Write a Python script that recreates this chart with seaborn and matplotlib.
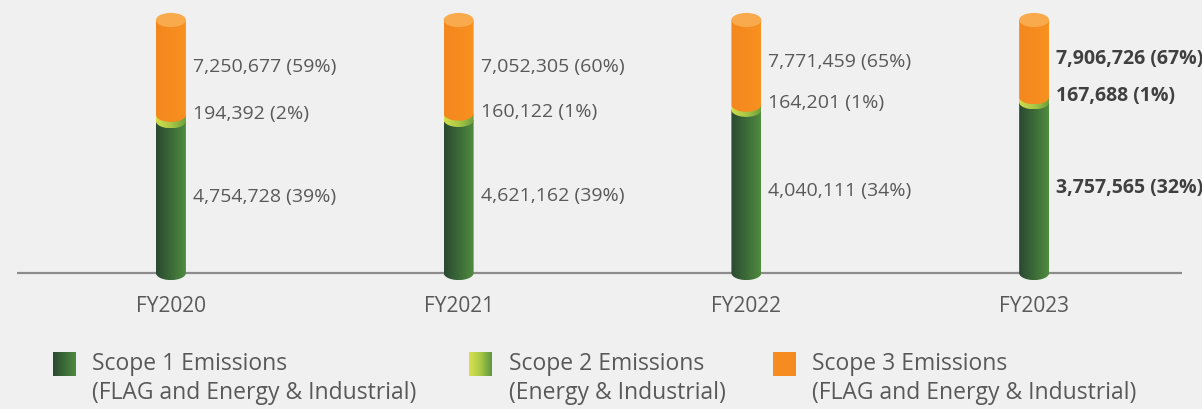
import numpy as np
import pandas as pd
import seaborn as sns
from matplotlib import pyplot as plt
from matplotlib.path import Path
from matplotlib.patches import PathPatch, Ellipse
from matplotlib.colors import LinearSegmentedColormap

sns.set_style('white')
plt.rcParams['font.family'] = ['Open Sans', 'DejaVu Sans']

#%% data
years = ['FY2020', 'FY2021', 'FY2022', 'FY2023']
scope1 = [4754728, 4621162, 4040111, 3757565]
scope2 = [194392, 160122, 164201, 167688]
scope3 = [7250677, 7052305, 7771459, 7906726]
pct1 = [39, 39, 34, 32]
pct2 = [2, 1, 1, 1]
pct3 = [59, 60, 65, 67]

# segment heights as drawn in the picture (% of the bar)
seg_green = [60, 60.5, 64.5, 67.5]
seg_lime = [2.5, 2.5, 2, 2]
seg_orange = [37.5, 37, 33.5, 30.5]

legend_labels = [('Scope 1 Emissions', '(FLAG and Energy & Industrial)'),
                 ('Scope 2 Emissions', '(Energy & Industrial)'),
                 ('Scope 3 Emissions', '(FLAG and Energy & Industrial)')]

#%% style
bg = '#f0f0f0'
txt = '#595959'
cm_green = LinearSegmentedColormap.from_list('g', ['#2a4a31', '#3c6a38', '#4f8b3f'])
cm_lime = LinearSegmentedColormap.from_list('l', ['#d4dd4c', '#a9c947', '#6d9f3e'])
cm_orange = LinearSegmentedColormap.from_list('o', ['#f48820', '#f68b1f', '#f8911f'])
grad = np.linspace(0, 1, 64).reshape(1, -1)

df = pd.DataFrame({'year': years, 'green': seg_green, 'lime': seg_lime, 'orange': seg_orange})
df['top_lime'] = df['green'] + df['lime']
df['total'] = df['top_lime'] + df['orange']

fig = plt.figure(figsize=(12.02, 4.09), dpi=100, facecolor=bg)
ax = fig.add_axes([17/1202, 125.9/409, 1165/1202, 263.1/409])
ax.set_facecolor(bg)

bw = 0.104
for col, c in [('total', '#f68b1f'), ('top_lime', '#a9c947'), ('green', '#3c6a38')]:
    sns.barplot(data=df, x='year', y=col, color=c, width=bw, saturation=1, ax=ax, linewidth=0)

eh = 5.6  # ellipse height in data units


def cyl_segment(ax, x0, w, y0, y1, cmap, z):
    t = np.linspace(0, np.pi, 60)
    xc = x0 + w/2
    arc = np.column_stack([xc - w/2*np.cos(t), y0 - eh/2*np.sin(t)])
    verts = np.vstack([[x0, y1], arc, [x0 + w, y1], [x0, y1]])
    codes = [Path.MOVETO] + [Path.LINETO]*(len(verts) - 2) + [Path.CLOSEPOLY]
    pp = PathPatch(Path(verts, codes), fc='none', ec='none', transform=ax.transData)
    ax.add_patch(pp)
    im = ax.imshow(grad, cmap=cmap, aspect='auto', extent=[x0, x0 + w, y0 - eh/2, y1],
                   zorder=z, interpolation='bilinear')
    im.set_clip_path(pp)


bars = ax.patches[:4]
for i, p in enumerate(bars):
    x0, w = p.get_x(), p.get_width()
    xc = x0 + w/2
    g, l, tot = df['green'][i], df['top_lime'][i], df['total'][i]
    cyl_segment(ax, x0, w, 0, g, cm_green, 3)
    cyl_segment(ax, x0, w, g, l, cm_lime, 4)
    cyl_segment(ax, x0, w, l, tot, cm_orange, 5)
    ax.add_patch(Ellipse((xc, tot), w, eh, fc='#f9aa4c', ec='none', zorder=6, clip_on=False))

    bold = (i == len(years) - 1)
    kw = dict(fontsize=14, color='#404040' if bold else txt,
              weight='bold' if bold else 'normal', va='center', ha='left')
    xt = x0 + w + 0.024
    ax.text(xt, l + df['orange'][i]/2, f'{scope3[i]:,} ({pct3[i]}%)', **kw)
    ax.text(xt, l + 0.5, f'{scope2[i]:,} ({pct2[i]}%)', **kw)
    ax.text(xt, g/2, f'{scope1[i]:,} ({pct1[i]}%)', **kw)

for p in ax.patches[:12]:
    p.set_visible(False)

ax.axhline(0, color='#8c8c8c', lw=1.6, zorder=2)
ax.set_xlim(-0.535, 3.514)
ax.set_ylim(-4, 100)
ax.set_xlabel('')
ax.set_ylabel('')
ax.set_yticks([])
ax.tick_params(axis='x', length=0, pad=9, labelsize=15, labelcolor=txt)
for s in ax.spines.values():
    s.set_visible(False)

#%% legend
sq_x = [53, 469, 773]
tx_x = [92, 509, 812]
cmaps = [cm_green, LinearSegmentedColormap.from_list('l2', ['#dbe04d', '#a9c947', '#5e9640']), None]
for k in range(3):
    lax = fig.add_axes([sq_x[k]/1202, 1 - 376/409, 23/1202, 24/409])
    if cmaps[k] is None:
        lax.set_facecolor('#f68b1f')
    else:
        lax.imshow(grad, cmap=cmaps[k], aspect='auto')
    lax.set_xticks([])
    lax.set_yticks([])
    for s in lax.spines.values():
        s.set_visible(False)
    fig.text(tx_x[k]/1202, 1 - 364/409, legend_labels[k][0], fontsize=16.5, color=txt, va='center')
    fig.text(tx_x[k]/1202, 1 - 393/409, legend_labels[k][1], fontsize=16.5, color=txt, va='center')

fig.savefig('out.png', dpi=100, facecolor=bg)
